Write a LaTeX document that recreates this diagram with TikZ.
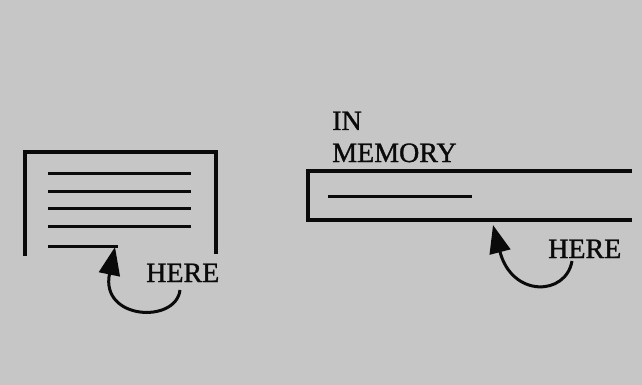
\documentclass[tikz,border=0pt]{standalone}
\usepackage{fontspec}
\setmainfont{Liberation Serif}
\newfontface\heavyface{Liberation Serif}[FakeBold=1.2]
\usetikzlibrary{arrows.meta}
\definecolor{bg}{RGB}{198,198,198}
\definecolor{ink}{RGB}{10,10,10}
\begin{document}
\begin{tikzpicture}[x=1pt,y=-1pt,
  rule/.style={draw=ink,line width=3.4pt,line cap=butt,line join=miter},
  thin/.style={draw=ink,line width=3pt},
  curl/.style={draw=ink,line width=3pt,-{Triangle[length=28pt,width=21pt]}},
  lbl/.style={font=\heavyface\fontsize{28}{29}\selectfont,text=ink,inner sep=0pt,anchor=base west,align=left}]
\fill[bg] (0,0) rectangle (642,385);
\useasboundingbox (0,0) rectangle (642,385);
% left box (page)
\draw[rule] (25,256) -- (25,152) -- (216,152) -- (216,254);
\foreach \yy in {173,191,208,226} \draw[thin] (48,\yy) -- (191,\yy);
\draw[thin] (48,246) -- (118,246);
\coordinate (la) at (180,290);
\coordinate (lt) at (115,247);
\draw[curl] (la) .. controls (176,324) and (100,320) .. (lt);
\node[lbl] (here1) at (146,282) {HERE};
% right box (in memory)
\node[lbl] (in) at (332,130) {IN};
\node[lbl] (mem) at (332,162) {MEMORY};
\draw[rule] (632,171) -- (308,171) -- (308,220) -- (632,220);
\draw[thin] (328,196) -- (472,196);
\coordinate (ra) at (572,261);
\coordinate (rt) at (493,225);
\draw[curl] (ra) .. controls (566,296) and (512,298) .. (rt);
\node[lbl] (here2) at (548,258) {HERE};
\end{tikzpicture}
\end{document}
